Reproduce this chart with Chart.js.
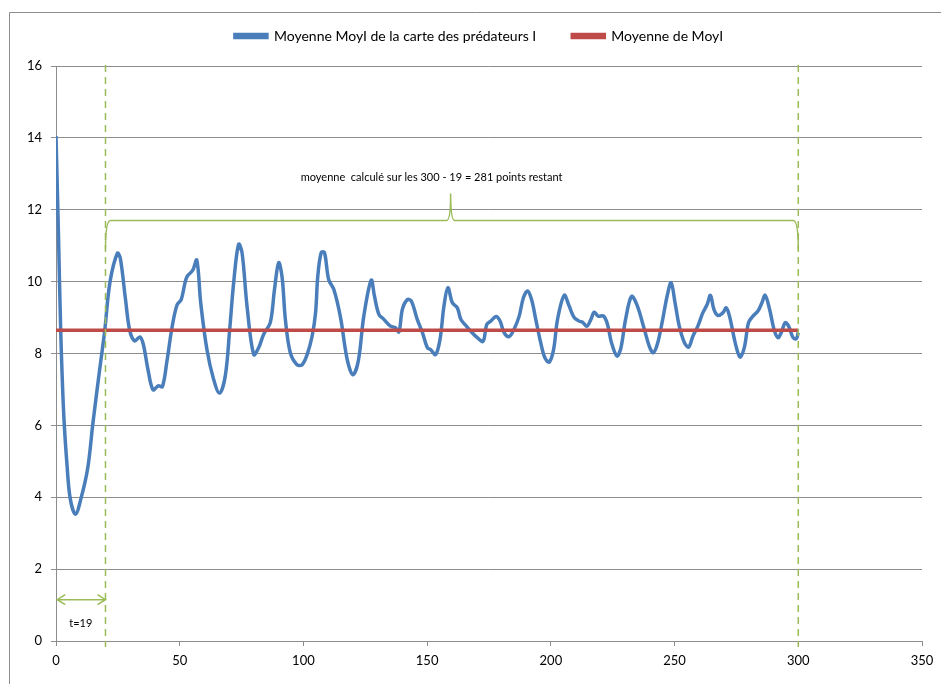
<!DOCTYPE html>
<html lang="fr">
<head>
    <meta charset="UTF-8">
    <title>Moyenne MoyI</title>
    <script src="https://cdn.jsdelivr.net/npm/chart.js"></script>
    <style>
        body {
            margin: 0;
            background-color: #ffffff;
        }
        #chartBox {
            width: 941px;
            height: 684px;
        }
    </style>
</head>
<body>
    <div id="chartBox">
        <canvas id="moyChart" width="941" height="684"></canvas>
    </div>

    <script>
        // t values
        const tValues = [
            0, 1, 1.9, 3.1, 4.45, 5.8, 7.9, 10, 12.8, 14.9, 17.7, 19.7, 21.8, 24.8, 26, 28.1, 29.8,
            31.8, 33.9, 35.3, 37.1, 39.2, 41.3, 43, 44.8, 46.9, 48.9, 50.6, 52.8, 55.2, 56.9, 58.5,
            61, 63.7, 66.1, 68.4, 70.2, 71.8, 73.8, 75.2, 77.2, 79.9, 81.9, 83.9, 86.6, 88.3, 90,
            91.4, 92.7, 94.7, 97.4, 99.5, 101.5, 103.5, 104.9, 105.8, 107.2, 108.5, 110.2, 112.3,
            115, 117.7, 120, 122.2, 124.4, 127.4, 128.7, 130.5, 132.5, 135.2, 137.2, 138.6, 140,
            142, 143.6, 146, 148.1, 150.1, 151.4, 153.4, 155.2, 156.8, 158.4, 160.2, 162.2, 163.6,
            165.6, 167.6, 170.3, 172.6, 174.1, 175.7, 177.9, 179.5, 181.1, 183.1, 185.1, 187.2,
            188.9, 190.6, 192.2, 193.9, 195.9, 197.6, 199.3, 201.1, 202.7, 205.4, 207.4, 209.4,
            211.5, 212.8, 214.6, 216.2, 217.5, 219.1, 221.3, 222.9, 224.5, 226.7, 228.3, 230.2,
            232.6, 234.8, 237.8, 239.8, 241.4, 243.2, 245.2, 247, 248.6, 250.2, 251.9, 254, 255.7,
            257.4, 259.4, 261.4, 263.2, 264.5, 265.9, 267.5, 269.5, 270.9, 272.2, 274.2, 275.6,
            276.6, 278.3, 279.9, 281.7, 283.7, 285.3, 286.6, 288.4, 290.2, 291.8, 293.1, 294.7,
            296.1, 297.9, 299.2, 300
        ];
        const moyValues = [
            14.05, 11.3, 8.64, 6.34, 4.9, 3.94, 3.53, 3.94, 4.8, 6.05, 7.58, 8.64, 9.98, 10.79, 10.65, 9.5, 8.64,
            8.35, 8.46, 8.25, 7.58, 6.99, 7.1, 7.08, 7.77, 8.73, 9.35, 9.5, 10.12, 10.31, 10.6, 9.4,
            8.11, 7.28, 6.9, 7.37, 8.67, 9.97, 11.04, 10.8, 9.32, 7.97, 8.16, 8.53, 8.86, 9.78, 10.53,
            10.11, 8.95, 8.02, 7.69, 7.69, 7.97, 8.48, 9.13, 10.15, 10.81, 10.81, 10.06, 9.78,
            9.0, 7.83, 7.41, 7.8, 9.04, 10.04, 9.6, 9.09, 8.95, 8.76, 8.72, 8.6, 9.23,
            9.5, 9.46, 8.95, 8.58, 8.16, 8.11, 7.97, 8.39, 9.32, 9.83, 9.41, 9.27, 8.95,
            8.78, 8.62, 8.44, 8.34, 8.81, 8.9, 9.03, 8.9, 8.58, 8.47, 8.67, 9.04,
            9.55, 9.74, 9.5, 8.95, 8.3, 7.88, 7.76, 8.11, 8.95, 9.62, 9.32, 9.0,
            8.9, 8.87, 8.76, 8.95, 9.15, 9.04, 9.04, 8.81, 8.3, 7.93, 8.15, 8.95,
            9.59, 9.35, 8.67, 8.2, 8.02, 8.3, 8.95, 9.6, 9.97, 9.41, 8.76, 8.3, 8.18,
            8.48, 8.76, 9.13, 9.37, 9.62, 9.23, 9.06, 9.13, 9.27, 9.04, 8.39, 8.02,
            7.9, 8.2, 8.86, 9.04, 9.18, 9.41, 9.62, 9.23, 8.67, 8.44, 8.58, 8.86,
            8.76, 8.44, 8.41, 8.58
        ];
        // mean line over the whole run
        const meanT = [0, 300];
        const meanValues = [8.65, 8.65];

        const xTicks = [0, 50, 100, 150, 200, 250, 300, 350];
        const yTicks = [0, 2, 4, 6, 8, 10, 12, 14, 16];

        const seriesLabels = ['Moyenne MoyI de la carte des prédateurs I', 'Moyenne de MoyI'];
        const noteText = 'moyenne  calculé sur les 300 - 19 = 281 points restant';
        const startLabel = 't=19';

        const FONT = 'Lato, "Open Sans", sans-serif';
        const GREEN = '#9bbb59';
        const GRID = '#8c8c8c';

        // border, dashed markers, brace, arrow and the two notes
        const notesPlugin = {
            id: 'notes',
            beforeDraw(chart) {
                const ctx = chart.ctx;
                ctx.save();
                ctx.strokeStyle = '#8c8c8c';
                ctx.lineWidth = 1;
                ctx.beginPath();
                ctx.moveTo(9.5, 684);
                ctx.lineTo(9.5, 12.5);
                ctx.lineTo(941, 12.5);
                ctx.stroke();
                ctx.restore();
            },
            afterDatasetsDraw(chart) {
                const ctx = chart.ctx;
                const xs = chart.scales.x, ys = chart.scales.y;
                const area = chart.chartArea;
                const px = v => xs.getPixelForValue(v);
                const py = v => ys.getPixelForValue(v);
                ctx.save();

                // dashed limits
                ctx.strokeStyle = GREEN;
                ctx.lineWidth = 1.5;
                ctx.setLineDash([7, 5]);
                [20, 300].forEach(t => {
                    ctx.beginPath();
                    ctx.moveTo(px(t), area.top - 1);
                    ctx.lineTo(px(t), area.bottom + 6);
                    ctx.stroke();
                });
                ctx.setLineDash([]);

                // brace
                const yb = py(11.7), yEnd = py(10.9), yTip = py(12.45);
                const x1 = px(20), x2 = px(300), xm = px(159.5);
                ctx.beginPath();
                ctx.moveTo(x1, yEnd);
                ctx.quadraticCurveTo(x1, yb, x1 + 5, yb);
                ctx.lineTo(xm - 4, yb);
                ctx.quadraticCurveTo(xm, yb, xm, yTip);
                ctx.quadraticCurveTo(xm, yb, xm + 4, yb);
                ctx.lineTo(x2 - 5, yb);
                ctx.quadraticCurveTo(x2, yb, x2, yEnd);
                ctx.stroke();

                // double arrow 0 -> 19
                const ya = py(1.15), a1 = px(0.5), a2 = px(20);
                ctx.beginPath();
                ctx.moveTo(a1, ya);
                ctx.lineTo(a2, ya);
                ctx.moveTo(a1 + 8, ya - 5);
                ctx.lineTo(a1, ya);
                ctx.lineTo(a1 + 8, ya + 5);
                ctx.moveTo(a2 - 8, ya - 5);
                ctx.lineTo(a2, ya);
                ctx.lineTo(a2 - 8, ya + 5);
                ctx.stroke();

                ctx.fillStyle = '#000';
                ctx.font = '11px ' + FONT;
                ctx.textAlign = 'center';
                ctx.textBaseline = 'middle';
                ctx.fillText(startLabel, px(10), py(0.5));
                ctx.fillText(noteText, px(151.8), py(12.9));
                ctx.restore();
            }
        };

        // legend block ends where the plot starts, centred a bit to the right
        const legendBox = {
            id: 'legendBox',
            beforeInit(chart) {
                const fit = chart.legend.fit;
                chart.legend.fit = function () {
                    fit.call(this);
                    this.height = 73;
                };
            },
            afterLayout(chart) {
                chart.legend.left += 18;
                chart.legend.right += 18;
            }
        };

        const moyChart = new Chart(document.getElementById('moyChart'), {
            type: 'line',
            data: {
                datasets: [{
                    label: seriesLabels[0],
                    data: tValues.map((t, i) => ({ x: t, y: moyValues[i] })),
                    borderColor: '#4a7ebb',
                    backgroundColor: '#4a7ebb',
                    borderWidth: 3.5,
                    pointRadius: 0,
                    tension: 0.35,
                    order: 2
                }, {
                    label: seriesLabels[1],
                    data: meanT.map((t, i) => ({ x: t, y: meanValues[i] })),
                    borderColor: '#be4b48',
                    backgroundColor: '#be4b48',
                    borderWidth: 3.5,
                    pointRadius: 0,
                    order: 1
                }]
            },
            options: {
                responsive: false,
                animation: false,
                layout: {
                    padding: { left: 0, right: 19, top: -7, bottom: 0 }
                },
                scales: {
                    x: {
                        type: 'linear',
                        min: 0,
                        max: 350,
                        afterBuildTicks: axis => { axis.ticks = xTicks.map(v => ({ value: v })); },
                        afterFit: axis => { axis.height = 43; },
                        border: { color: GRID, width: 1 },
                        grid: { drawOnChartArea: false, color: GRID, tickLength: 5 },
                        ticks: { color: '#000', font: { family: FONT, size: 13 }, padding: 7, maxRotation: 0 }
                    },
                    y: {
                        min: 0,
                        max: 16,
                        afterBuildTicks: axis => { axis.ticks = yTicks.map(v => ({ value: v })); },
                        afterFit: axis => { axis.width = 56; },
                        border: { color: GRID, width: 1 },
                        grid: { color: GRID, tickLength: 5 },
                        ticks: { color: '#000', font: { family: FONT, size: 13 }, padding: 9 }
                    }
                },
                plugins: {
                    legend: {
                        position: 'top',
                        labels: {
                            boxWidth: 32,
                            boxHeight: 3,
                            padding: 36,
                            color: '#000',
                            font: { family: FONT, size: 14 },
                            sort: (a, b) => a.datasetIndex - b.datasetIndex
                        }
                    },
                    tooltip: { enabled: false }
                }
            },
            plugins: [notesPlugin, legendBox]
        });
    </script>
</body>
</html>
